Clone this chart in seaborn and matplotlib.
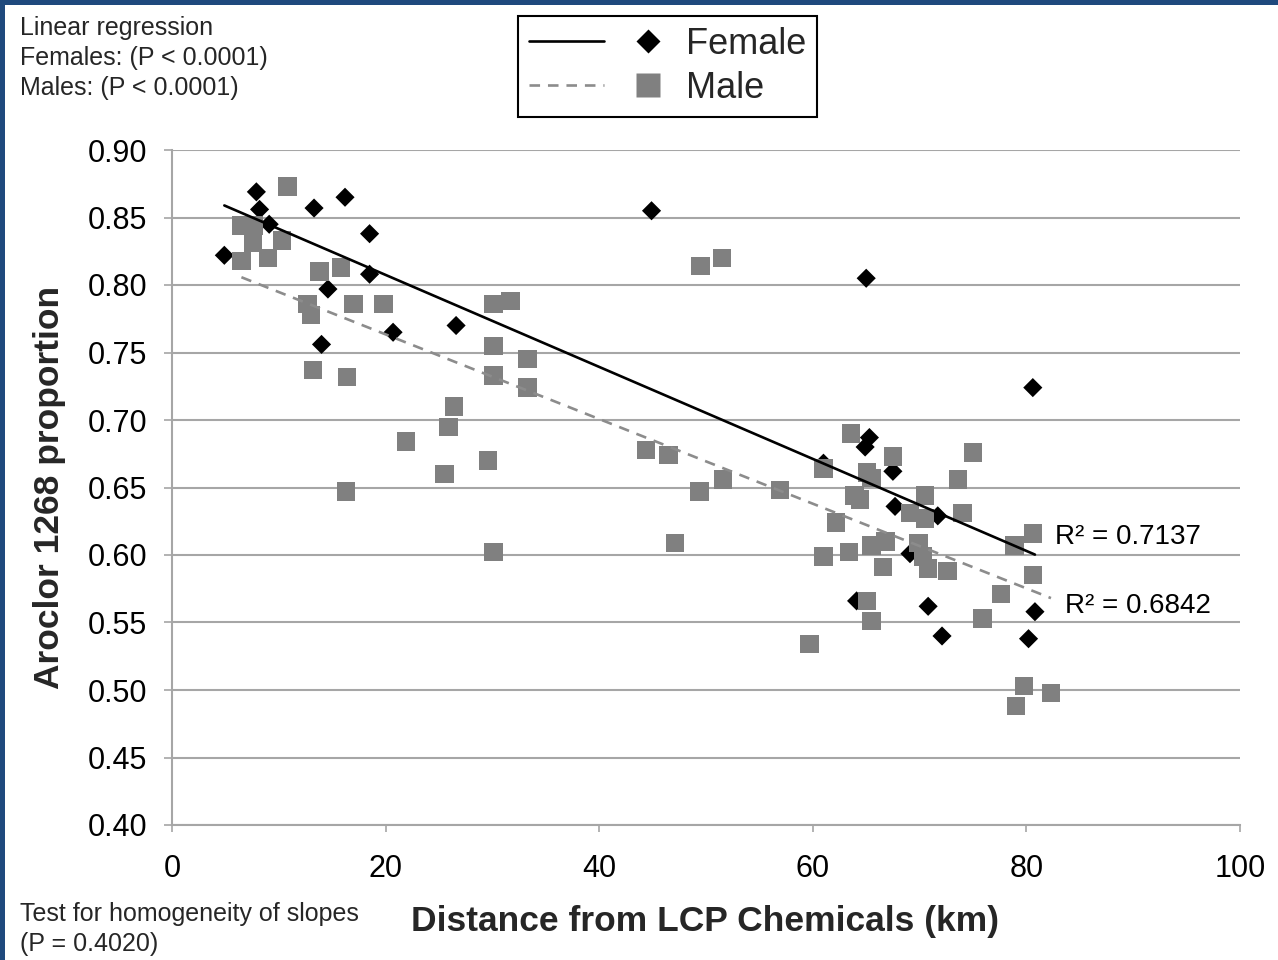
import numpy as np
import pandas as pd
import matplotlib
matplotlib.use("Agg")
import matplotlib.pyplot as plt
from matplotlib import font_manager
from matplotlib.lines import Line2D
from matplotlib.legend_handler import HandlerTuple
from matplotlib.patches import Rectangle
import seaborn as sns

# Females: distance from the site (km) and Aroclor 1268 proportion
female_km = [4.9, 7.9, 8.2, 9.1, 13.3, 16.2, 18.5, 18.5, 14.6, 14.0, 20.7, 26.6,
             44.9, 65.0, 80.6, 65.3, 64.9, 61.0, 67.5, 67.7, 71.7, 69.1, 64.1,
             70.8, 72.1, 80.8, 80.2]
female_prop = [0.822, 0.869, 0.856, 0.845, 0.857, 0.865, 0.838, 0.808, 0.797, 0.756,
               0.765, 0.770, 0.855, 0.805, 0.724, 0.687, 0.680, 0.668, 0.662, 0.636,
               0.629, 0.601, 0.566, 0.562, 0.540, 0.558, 0.538]

# Males
male_km = [10.8, 6.5, 7.7, 7.6, 10.3, 6.5, 9.0, 13.8, 15.8, 12.7, 13.0, 17.0, 19.8,
           13.2, 16.4, 30.1, 31.7, 30.1, 33.3, 30.1, 33.3, 26.4, 25.9, 21.9, 29.6,
           25.5, 16.3, 49.5, 51.5, 30.1, 44.4, 46.5, 49.4, 51.6, 56.9, 47.1,
           63.6, 75.0, 67.5, 61.0, 65.1, 65.5, 73.6, 63.9, 64.4, 70.5, 69.1, 70.5,
           74.0, 62.2, 80.6, 78.9, 65.5, 66.8, 69.9, 61.0, 63.4, 70.3, 66.6, 70.8,
           72.6, 80.6, 77.6, 65.1, 65.5, 75.9, 59.7, 79.8, 82.3, 79.0]
male_prop = [0.873, 0.844, 0.844, 0.831, 0.833, 0.818, 0.820, 0.810, 0.813, 0.786,
             0.778, 0.786, 0.786, 0.737, 0.732, 0.786, 0.788, 0.755, 0.745, 0.733,
             0.724, 0.710, 0.695, 0.684, 0.670, 0.660, 0.647, 0.814, 0.820, 0.602,
             0.678, 0.674, 0.647, 0.656, 0.648, 0.609,
             0.690, 0.676, 0.673, 0.664, 0.661, 0.657, 0.656, 0.644, 0.641, 0.644,
             0.631, 0.627, 0.631, 0.624, 0.616, 0.607, 0.607, 0.610, 0.609, 0.599,
             0.602, 0.599, 0.591, 0.590, 0.588, 0.585, 0.571, 0.566, 0.551, 0.553,
             0.534, 0.503, 0.498, 0.488]

x_ticks = [0, 20, 40, 60, 80, 100]
y_ticks = [0.40, 0.45, 0.50, 0.55, 0.60, 0.65, 0.70, 0.75, 0.80, 0.85, 0.90]
series_labels = ["Female", "Male"]
r2_female = "R² = 0.7137"
r2_male = "R² = 0.6842"

sns.set_theme(style="white")
plt.rcParams["font.family"] = ["Liberation Sans", "DejaVu Sans"]


def pick_font(*names):
    for name in names:
        try:
            font_manager.findfont(name, fallback_to_default=False)
            return name
        except Exception:
            continue
    return "DejaVu Sans"


narrow = pick_font("Liberation Sans Narrow", "Liberation Sans")
title_size = 28 if narrow == "Liberation Sans Narrow" else 25.5

W, H = 1278, 960
fig = plt.figure(figsize=(W / 100, H / 100), dpi=100)
fig.patch.set_facecolor("white")
ax = fig.add_axes([172 / W, 1 - 825 / H, (1240 - 172) / W, (825 - 150) / H])
ax.set_facecolor("white")

female = pd.DataFrame({"km": female_km, "prop": female_prop})
male = pd.DataFrame({"km": male_km, "prop": male_prop})

female_color = "black"
male_color = "#808080"
grid_color = "#a6a6a6"

sns.scatterplot(data=female, x="km", y="prop", marker="D", s=95, color=female_color,
                edgecolor="none", linewidth=0, ax=ax, zorder=3, legend=False)
sns.scatterplot(data=male, x="km", y="prop", marker="s", s=175, color=male_color,
                edgecolor="none", linewidth=0, ax=ax, zorder=4, legend=False)

sns.regplot(data=female, x="km", y="prop", scatter=False, ci=None, ax=ax,
            color=female_color, line_kws=dict(lw=1.9, zorder=5))
sns.regplot(data=male, x="km", y="prop", scatter=False, ci=None, ax=ax,
            color="#8c8c8c", line_kws=dict(lw=1.9, ls=(0, (4, 3)), zorder=5))

ax.set_xlim(0, 100)
ax.set_ylim(0.40, 0.90)
ax.set_xticks(x_ticks)
ax.set_xticklabels([str(t) for t in x_ticks])
ax.set_yticks(y_ticks)
ax.set_yticklabels([f"{t:.2f}" for t in y_ticks])
ax.set_xlabel("")
ax.set_ylabel("")

ax.yaxis.grid(True, color=grid_color, lw=1.5)
ax.xaxis.grid(False)
ax.set_axisbelow(True)
for side in ("top", "right"):
    ax.spines[side].set_visible(False)
for side in ("left", "bottom"):
    ax.spines[side].set_color(grid_color)
    ax.spines[side].set_linewidth(1.5)

ax.tick_params(axis="y", direction="out", length=6, width=1.2, color=grid_color,
               pad=12, labelsize=22, labelcolor="black", left=True)
ax.tick_params(axis="x", direction="out", length=5, width=1.2, color=grid_color,
               pad=16, labelsize=22, labelcolor="black", bottom=True)

# Coefficient of determination beside each fitted line
ax.text(82.7, 0.6133, r2_female, va="center", ha="left", fontsize=20, color="black")
ax.text(83.6, 0.5622, r2_male, va="center", ha="left", fontsize=20, color="black")

# Legend: line sample followed by marker sample for each sex
handles = [
    (Line2D([], [], color=female_color, lw=1.9),
     Line2D([], [], ls="none", marker="D", ms=12.5, color=female_color, mec="none")),
    (Line2D([], [], color="#8c8c8c", lw=1.9, ls=(0, (4, 3))),
     Line2D([], [], ls="none", marker="s", ms=17, color=male_color, mec="none")),
]
leg = ax.legend(handles, series_labels,
                handler_map={tuple: HandlerTuple(ndivide=None, pad=0.2)},
                loc="upper left", bbox_to_anchor=(518 / W, 1 - 16 / H),
                bbox_transform=fig.transFigure, borderaxespad=0, frameon=True,
                fancybox=False, framealpha=1, edgecolor="black", fontsize=26,
                handlelength=4.35, handletextpad=0.0, borderpad=0.3,
                labelspacing=0.25, numpoints=1)
leg.get_frame().set_linewidth(1.5)

# Annotations
fig.text(20 / W, 1 - 28 / H, "Linear regression", va="center", ha="left", fontsize=18)
fig.text(20 / W, 1 - 58 / H, "Females: (P < 0.0001)", va="center", ha="left", fontsize=18)
fig.text(20 / W, 1 - 88 / H, "Males: (P < 0.0001)", va="center", ha="left", fontsize=18)
fig.text(20 / W, 1 - 914 / H, "Test for homogeneity of slopes", va="center", ha="left", fontsize=18)
fig.text(20 / W, 1 - 944 / H, "(P = 0.4020)", va="center", ha="left", fontsize=18)

fig.text(705 / W, 1 - 922 / H, "Distance from LCP Chemicals (km)", va="center", ha="center",
         fontsize=title_size, fontweight="bold", family=[narrow, "DejaVu Sans"])
fig.text(50 / W, 1 - 487 / H, "Aroclor 1268 proportion", va="center", ha="center",
         rotation=90, fontsize=title_size, fontweight="bold", family=[narrow, "DejaVu Sans"])

# Slide frame along the top and left edges
frame_color = "#1f497d"
fig.add_artist(Rectangle((0, 1 - 5 / H), 1, 5 / H, transform=fig.transFigure,
                         color=frame_color, lw=0, zorder=10))
fig.add_artist(Rectangle((0, 0), 5 / W, 1, transform=fig.transFigure,
                         color=frame_color, lw=0, zorder=10))

fig.savefig("out.png", dpi=100)
